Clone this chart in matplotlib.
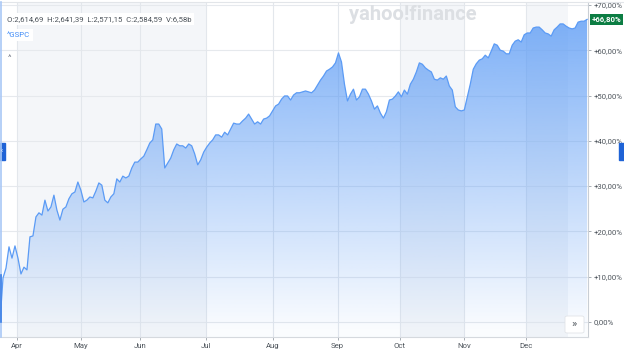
import numpy as np
import matplotlib
matplotlib.use("Agg")
import matplotlib.pyplot as plt
from matplotlib.patches import Rectangle, FancyBboxPatch

plt.rcParams['font.family'] = ['Roboto', 'DejaVu Sans']

# ---- data (cumulative % change of ^GSPC, one value per trading day) ----
pct_change = [
    0.0, 9.7, 11.9, 16.6, 14.1, 16.8, 14.1, 10.6, 12.1, 11.5,
    18.8, 19.0, 23.2, 24.1, 23.6, 26.9, 24.5, 25.4, 28.0, 24.7,
    22.5, 24.9, 25.4, 27.2, 28.3, 28.7, 30.9, 29.1, 26.5, 26.9,
    27.6, 27.4, 28.9, 30.7, 30.2, 26.9, 26.3, 27.6, 28.3, 31.6,
    30.9, 32.2, 31.8, 32.2, 34.0, 35.3, 35.3, 36.0, 36.6, 38.0,
    39.5, 40.2, 43.7, 43.7, 42.6, 34.0, 35.1, 36.2, 38.0, 39.3,
    38.9, 38.9, 38.4, 39.3, 38.9, 37.1, 34.7, 35.8, 37.5, 38.6,
    39.5, 40.2, 41.3, 41.3, 40.8, 41.9, 41.3, 42.6, 43.9, 43.7,
    43.7, 44.4, 45.0, 45.9, 44.8, 43.7, 44.2, 43.7, 44.8, 45.0,
    45.5, 46.6, 47.7, 48.1, 49.2, 49.9, 49.9, 49.0, 50.1, 50.6,
    50.6, 50.8, 51.0, 50.8, 50.6, 51.2, 52.3, 53.4, 54.3, 55.4,
    55.8, 56.3, 57.2, 59.4, 57.4, 52.5, 48.8, 50.3, 51.4, 49.0,
    49.7, 51.4, 51.4, 50.3, 48.8, 47.0, 47.7, 46.1, 45.0, 46.4,
    49.0, 49.2, 49.9, 50.8, 49.7, 51.2, 50.3, 52.5, 53.6, 55.2,
    57.2, 56.9, 56.1, 55.6, 55.2, 53.6, 53.4, 53.9, 53.6, 54.3,
    52.1, 51.2, 47.5, 46.8, 46.6, 46.8, 49.7, 52.5, 55.8, 57.0,
    57.8, 58.1, 58.9, 58.3, 59.8, 61.4, 61.1, 60.0, 59.8, 59.2,
    59.2, 61.1, 62.0, 62.3, 61.8, 63.4, 63.8, 63.8, 64.9, 65.1,
    65.1, 64.5, 63.8, 63.6, 63.1, 64.5, 65.1, 65.8, 65.8, 65.3,
    64.9, 64.7, 64.9, 66.2, 66.4, 66.4, 66.8,
]
month_labels = ["Apr", "May", "Jun", "Jul", "Aug", "Sep", "Oct", "Nov", "Dec"]
month_pos = [5.7, 27.0, 46.7, 68.7, 91.0, 112.7, 133.5, 155.0, 175.6]
y_ticks = [0, 10, 20, 30, 40, 50, 60, 70]
y_tick_labels = ["0,00%", "+10,00%", "+20,00%", "+30,00%", "+40,00%",
                 "+50,00%", "+60,00%", "+70,00%"]
last_label = "+66,80%"
ohlc_text = "O:2,614,69  H:2,641,39  L:2,571,15  C:2,584,59  V:6,58b"
ticker = "^GSPC"

W, H = 624, 351
fig = plt.figure(figsize=(W / 100, H / 100), dpi=100)
fig.patch.set_facecolor("white")

ax_left, ax_right, ax_top, ax_bot = 0, 588, 2, 337
ax = fig.add_axes([ax_left / W, (H - ax_bot) / H,
                   (ax_right - ax_left) / W, (ax_bot - ax_top) / H])
x = np.arange(len(pct_change))
ax.set_xlim(0, 196.3)
ax.set_ylim(-3.31, 70.64)
ax.set_facecolor("white")

# month shading bands
shade = "#f4f6f9"
for a, b in [(month_pos[0], month_pos[3]), (month_pos[6], month_pos[7]),
             (month_pos[8], 189.6)]:
    ax.axvspan(a, b, color=shade, zorder=0, lw=0)

# grid
for v in y_ticks:
    ax.axhline(v, color="#e6e9ed", lw=0.8, zorder=1)
for p in month_pos:
    ax.axvline(p, color="#e3e7ec", lw=0.8, zorder=1)

# gradient fill under line
line_c = np.array([93, 156, 245]) / 255
poly = ax.fill_between(x, pct_change, -3.31, color="none", lw=0, zorder=2)
yy = np.linspace(-3.31, 70.64, 300)
alpha = np.clip(0.05 + 0.75 * (yy / 66.8), 0.03, 0.85)
grad = np.zeros((300, 1, 4))
grad[..., 0] = line_c[0]
grad[..., 1] = line_c[1]
grad[..., 2] = line_c[2]
grad[:, 0, 3] = alpha
im = ax.imshow(grad, extent=[0, 196.3, -3.31, 70.64], origin="lower",
               aspect="auto", zorder=2)
im.set_clip_path(poly.get_paths()[0], transform=ax.transData)
ax.set_xlim(0, 196.3)
ax.set_ylim(-3.31, 70.64)

ax.plot(x, pct_change, color="#5b9bf5", lw=0.9, zorder=3, solid_joinstyle="round")

# axes styling
for s in ["top", "left"]:
    ax.spines[s].set_visible(False)
ax.spines["right"].set_color("#c9ced4")
ax.spines["right"].set_linewidth(0.8)
ax.spines["bottom"].set_color("#d5d9de")
ax.spines["bottom"].set_linewidth(0.8)
ax.yaxis.tick_right()
ax.set_yticks(y_ticks)
ax.set_yticklabels(y_tick_labels)
ax.set_xticks(month_pos)
ax.set_xticklabels(month_labels)
ax.tick_params(axis="y", length=2.5, width=0.6, color="#9aa1a8", pad=1.5,
               labelsize=5.6, labelcolor="#4d545b")
ax.tick_params(axis="x", length=2, width=0.6, color="#9aa1a8", pad=2.5,
               labelsize=5.6, labelcolor="#4d545b")

# top border line
fig.add_artist(plt.Line2D([0, 1], [1 - 2 / H, 1 - 2 / H], color="#e2e5e9", lw=0.8))
# left blue edge
fig.add_artist(plt.Line2D([0.5 / W, 0.5 / W], [(H - 337) / H, 1 - 2 / H],
                          color="#a9c8f6", lw=1.2))
fig.add_artist(plt.Line2D([0.5 / W, 0.5 / W], [(H - 322) / H, (H - 275) / H],
                          color="#3b7fe6", lw=1.2))

# last value label
ax.annotate(last_label, xy=(1, pct_change[-1]), xycoords=("axes fraction", "data"),
            xytext=(2.5, 0), textcoords="offset points", va="center", ha="left",
            fontsize=5.6, color="white", fontweight="bold",
            bbox=dict(boxstyle="square,pad=0.25", fc="#0c7d43", ec="none"),
            annotation_clip=False, zorder=10)

# OHLC header and ticker
fig.text(7 / W, 1 - 19 / H, ohlc_text, fontsize=5.6, color="#4d545b",
         va="center", ha="left",
         bbox=dict(boxstyle="square,pad=0.35", fc="white", ec="none"))
fig.text(7 / W, 1 - 35 / H, ticker, fontsize=5.6, color="#3d8af7",
         va="center", ha="left",
         bbox=dict(boxstyle="square,pad=0.35", fc="white", ec="none"))
fig.text(8 / W, 1 - 58 / H, "^", fontsize=6, color="#6b7280", va="center", ha="left")

# watermark
fig.text(413 / W, 1 - 15 / H, "yahoo!finance", fontsize=14.5, color="#dcdfe3",
         fontweight="bold", va="center", ha="center", zorder=0)

# blue side tabs
fig.add_artist(Rectangle((0, (H - 160) / H), 5 / W, 17 / H, color="#1f63d6",
                         transform=fig.transFigure))
fig.text(1 / W, 1 - 151 / H, "‹", fontsize=5, color="white", va="center", ha="left")
fig.add_artist(Rectangle((619 / W, (H - 160) / H), 5 / W, 17 / H, color="#1f63d6",
                         transform=fig.transFigure))

# scroll button
fig.add_artist(FancyBboxPatch((565 / W, (H - 333) / H), 19 / W, 17 / H,
                              boxstyle="round,pad=0,rounding_size=0.004",
                              fc="white", ec="#e1e4e8", lw=0.6,
                              transform=fig.transFigure))
fig.text(574.5 / W, 1 - 324 / H, "»", fontsize=8, color="#4d545b",
         va="center", ha="center")

fig.savefig("out.png", dpi=100)
